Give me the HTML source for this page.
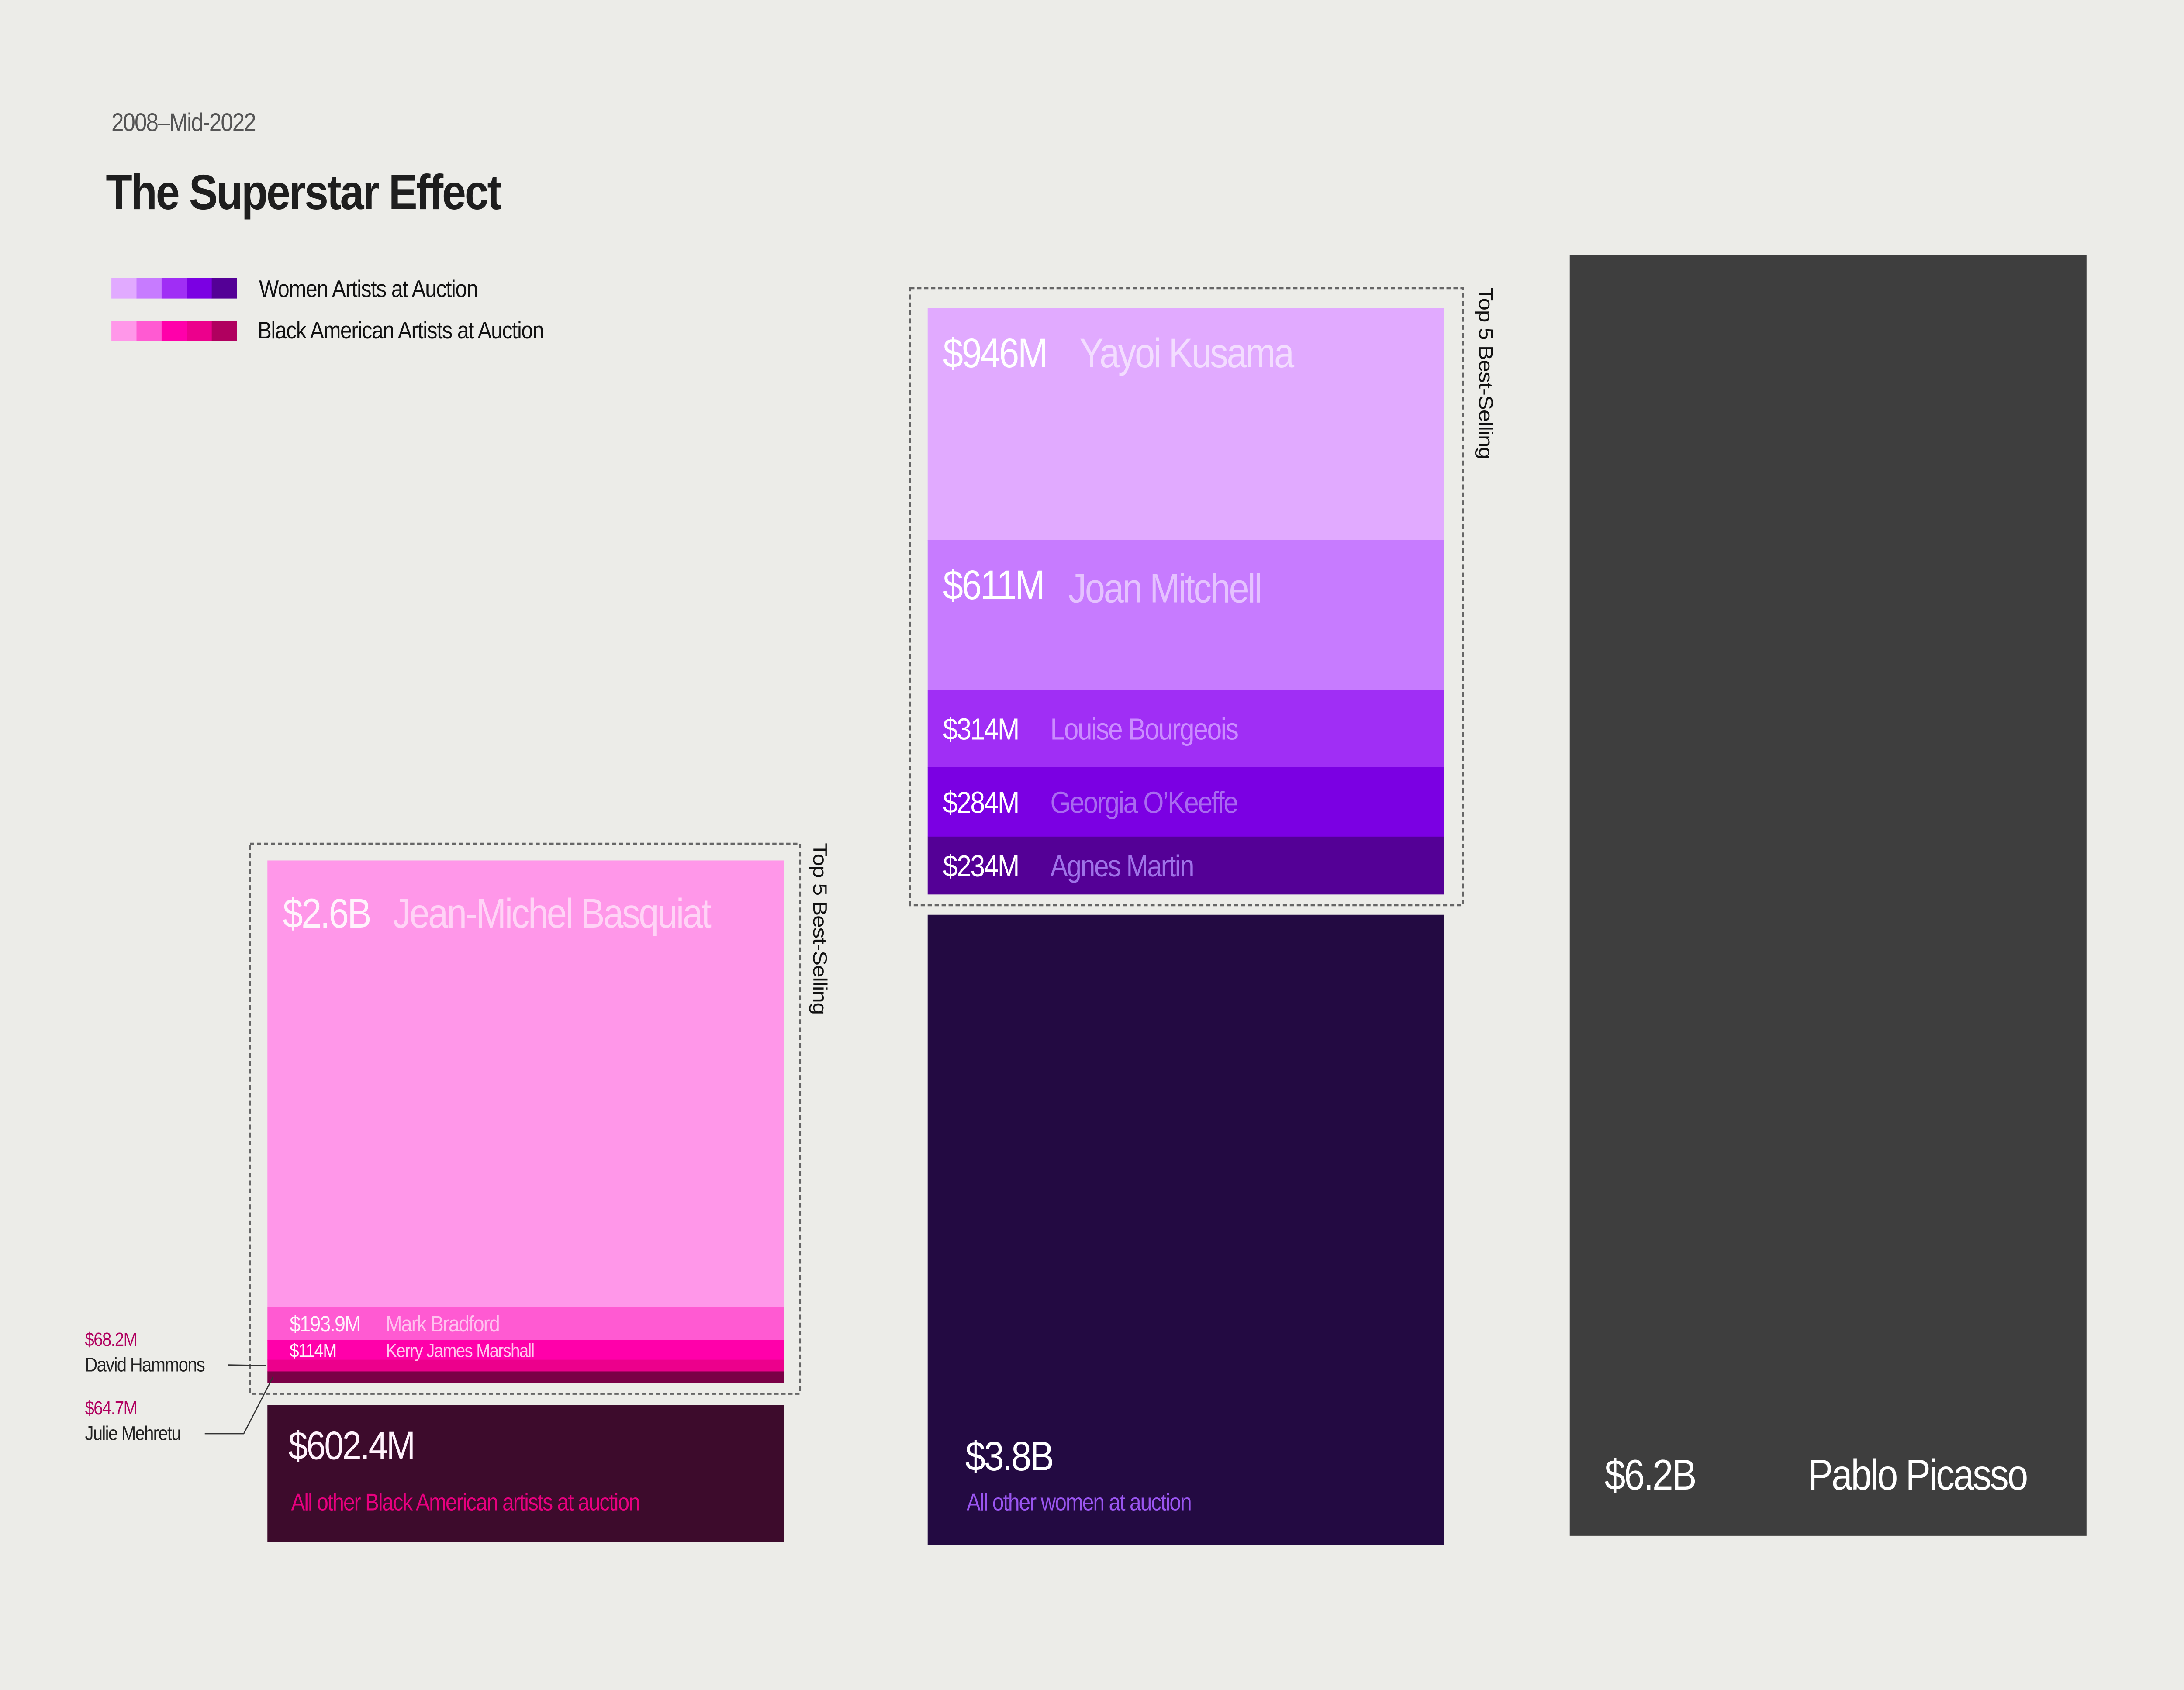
<!DOCTYPE html>
<html><head><meta charset="utf-8">
<style>
html,body{margin:0;padding:0;background:#ECECE8;width:100%;height:100%;overflow:hidden;}
svg{display:block;position:absolute;left:0;top:0;width:100vw;height:100vh;font-family:"Liberation Sans",sans-serif;}
</style></head>
<body>
<svg id="chart" viewBox="0 0 1568 1058.6" preserveAspectRatio="none" xmlns="http://www.w3.org/2000/svg">
<rect x="0" y="0" width="1568" height="1058.6" fill="#ECECE8"/>
<text x="80" y="82" font-size="16" fill="#555" letter-spacing="-0.6">2008–Mid-2022</text>
<text x="76" y="131" font-size="31" font-weight="bold" fill="#1E1E1E" letter-spacing="-1">The Superstar Effect</text>
<g id="legend"></g>
<g id="marks"></g>
</svg>
<script>
// Black American artists, top 5 (values in $M)
const blackNames = ["Jean-Michel Basquiat","Mark Bradford","Kerry James Marshall","David Hammons","Julie Mehretu"];
const blackValues = [2600,193.9,114,68.2,64.7];
const blackLabels = ["$2.6B","$193.9M","$114M","$68.2M","$64.7M"];
const blackOtherValue = [602.4];
const blackOtherLabel = ["$602.4M"];
// Women artists, top 5 (values in $M)
const womenNames = ["Yayoi Kusama","Joan Mitchell","Louise Bourgeois","Georgia O’Keeffe","Agnes Martin"];
const womenValues = [946,611,314,284,234];
const womenLabels = ["$946M","$611M","$314M","$284M","$234M"];
const womenOtherValue = [3800];
const womenOtherLabel = ["$3.8B"];
// Picasso
const picassoValue = [6200];
const picassoLabel = ["$6.2B"];

const NS="http://www.w3.org/2000/svg";
const svg=document.getElementById('marks');
const leg=document.getElementById('legend');
function mk(tag,attrs,parent){const e=document.createElementNS(NS,tag);for(const k in attrs)e.setAttribute(k,attrs[k]);(parent||svg).appendChild(e);return e;}
function sum(a){return a.reduce((s,v)=>s+v,0);}

const blackColors=["#FF97E9","#FF5AD2","#FF00AA","#EC008C","#7A0046"];
const blackNameColors=["#FFD3F6","#FFC2EF","#FFC8EE","#fff","#fff"];
const womenColors=["#E1AAFF","#C77BFF","#A02EF5","#7B00E3","#540096"];
const womenNameColors=["#F3DDFF","#E5C2FF","#CB8CFF","#A96AF0","#9F72E8"];
const legendBlack=["#FF97E9","#FF5AD2","#FF00AA","#EC008C","#B0005F"];

for(let i=0;i<5;i++){
  let r=mk('rect',{x:80+i*18,y:174,width:18.2,height:13,fill:womenColors[i]},leg);
  
  
  let r2=mk('rect',{x:80+i*18,y:201,width:18.2,height:12.5,fill:legendBlack[i]},leg);
  
  
}
let lt=mk('text',{x:186,y:186,'font-size':15,fill:'#111','letter-spacing':'-0.4'},leg);lt.textContent="Women Artists at Auction";


let lt2=mk('text',{x:185,y:212,'font-size':15,fill:'#111','letter-spacing':'-0.4'},leg);lt2.textContent="Black American Artists at Auction";



function txt(x,y,s,size,fill,name,extra){
  const t=mk('text',Object.assign({x:x,y:y,'font-size':size,fill:fill,'letter-spacing':-size*0.04},extra||{}));
  t.textContent=s;
  
  
  return t;
}
function dashBox(x,y,w,h,name){
  const r=mk('rect',{x:x,y:y,width:w,height:h,fill:'none',stroke:'#666','stroke-width':1.3,'stroke-dasharray':'3 2'});
  
  
}
function vlabel(x,y,name){
  const t=mk('text',{x:0,y:0,'font-size':14,fill:'#111',transform:`translate(${x},${y}) rotate(90)`,'letter-spacing':'-0.3'});
  t.textContent="Top 5 Best-Selling";
  
  
}

// ---- Black American stack ----
const bx=192,bw=371,bTop=539,bBottom=866;
const bScale=(bBottom-bTop)/sum(blackValues);
dashBox(179.5,528.5,395,344.5,'black-top5-box');
vlabel(584,528,'black-top5-label');
let y=bTop;
const bSegY=[];
blackValues.forEach((v,i)=>{
  const h=v*bScale;
  const r=mk('rect',{x:bx,y:y,width:bw,height:h+0.3,fill:blackColors[i]});
  
  
  bSegY.push([y,h]);
  y+=h;
});
txt(203,bSegY[0][0]+42,blackLabels[0],26,'#FFF3FC','value-label-basquiat');
txt(282,bSegY[0][0]+42,blackNames[0],26,blackNameColors[0],'name-label-basquiat');
txt(208,bSegY[1][0]+bSegY[1][1]/2+5,blackLabels[1],14,'#FFF3FC','value-label-bradford');
txt(277,bSegY[1][0]+bSegY[1][1]/2+5,blackNames[1],14,blackNameColors[1],'name-label-bradford');
txt(208,bSegY[2][0]+bSegY[2][1]/2+4.5,blackLabels[2],12,'#FFF3FC','value-label-marshall');
txt(277,bSegY[2][0]+bSegY[2][1]/2+4.5,blackNames[2],12,blackNameColors[2],'name-label-marshall');
const hy=bSegY[3][0]+bSegY[3][1]/2, my=bSegY[4][0]+bSegY[4][1]/2;
txt(61,843,blackLabels[3],12,'#B0005F','value-label-hammons');
txt(61,859,blackNames[3],12.5,'#222','name-label-hammons');
let l1=mk('line',{x1:164,y1:855,x2:191,y2:hy,stroke:'#333','stroke-width':0.8});


txt(61,886,blackLabels[4],12,'#B0005F','value-label-mehretu');
txt(61,902,blackNames[4],12.5,'#222','name-label-mehretu');
let l2=mk('polyline',{points:`147,898 175,898 196,${my}`,fill:'none',stroke:'#333','stroke-width':0.8});


const boTop=880,boScale=86/602.4;
const boH=blackOtherValue[0]*boScale;
let bo=mk('rect',{x:192,y:boTop,width:371,height:boH,fill:'#3D0B2C'});


txt(207,boTop+34,blackOtherLabel[0],25,'#FFF3FC','value-label-other-black');
txt(209,boTop+66,"All other Black American artists at auction",15,'#E8007F','name-label-other-black');

// ---- Women stack ----
const wx=666,ww=371,wTop=193,wBottom=560;
const wScale=(wBottom-wTop)/sum(womenValues);
dashBox(653.5,180.5,397,386.5,'women-top5-box');
vlabel(1062,180,'women-top5-label');
y=wTop;
const sizes=[26,26,19,19,19];
womenValues.forEach((v,i)=>{
  const h=v*wScale;
  const r=mk('rect',{x:wx,y:y,width:ww,height:h+0.3,fill:womenColors[i]});
  
  
  const ty = i<2 ? y+37 : y+h/2+7;
  txt(677,ty,womenLabels[i],sizes[i],'#FFFFFF','value-label-women-'+(i+1));
  const nx=[775,767,754,754,754][i];
  txt(nx,ty+(i===1?2:0),womenNames[i],sizes[i],womenNameColors[i],'name-label-women-'+(i+1));
  y+=h;
});
const woTop=573,woScale=395/3800;
let wo=mk('rect',{x:666,y:woTop,width:371,height:womenOtherValue[0]*woScale,fill:'#230A42'});


txt(693,woTop+348,womenOtherLabel[0],26,'#FFFFFF','value-label-other-women');
txt(694,woTop+373,"All other women at auction",15,'#9A55F0','name-label-other-women');

// ---- Picasso ----
const pBottom=962,pScale=802/6200;
const pH=picassoValue[0]*pScale;
let p=mk('rect',{x:1127,y:pBottom-pH,width:371,height:pH,fill:'#3E3E3E'});


txt(1152,pBottom-29,picassoLabel[0],27,'#FFFFFF','value-label-picasso');
txt(1298,pBottom-29,"Pablo Picasso",27,'#FFFFFF','name-label-picasso');
</script>
</body></html>
